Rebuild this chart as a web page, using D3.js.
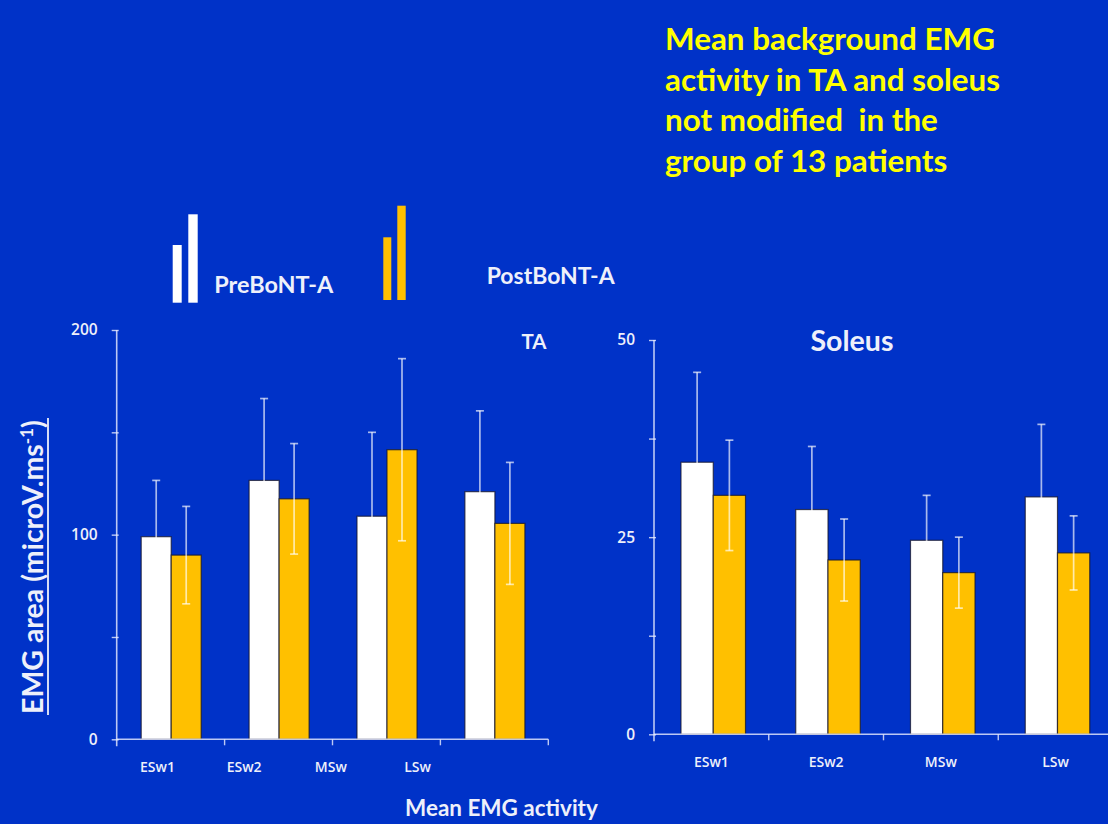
<!DOCTYPE html>
<html>
<head>
<meta charset="utf-8">
<script src="https://cdn.jsdelivr.net/npm/d3@7"></script>
<style>
  html, body { margin: 0; padding: 0; background: #0032C8; }
  svg { display: block; }
</style>
</head>
<body>
<svg id="chart" width="1108" height="824" font-family="Lato, 'Open Sans', sans-serif"></svg>
<script>
// ---- data ----
const categories = ["ESw1", "ESw2", "MSw", "LSw"];
const seriesNames = ["PreBoNT-A", "PostBoNT-A"];

// Tibialis anterior (TA), mean EMG area and SD
const taPre = [99, 126.5, 109, 121];
const taPost = [90, 117.5, 141.5, 105.5];
const taPreSD = [27.5, 40, 41, 39.5];
const taPostSD = [23.8, 27, 44.5, 29.8];

// Soleus, mean EMG area and SD
const solPre = [34.5, 28.5, 24.6, 30.1];
const solPost = [30.3, 22.1, 20.5, 23.0];
const solPreSD = [11.4, 8.0, 5.7, 9.2];
const solPostSD = [7.0, 5.2, 4.5, 4.7];

const taTicks = [0, 50, 100, 150, 200];
const taTickLabels = ["0", "", "100", "", "200"];
const solTicks = [0, 12.5, 25, 37.5, 50];
const solTickLabels = ["0", "", "25", "", "50"];

const titleLines = ["Mean background EMG", "activity in TA and soleus", "not modified  in the", "group of 13 patients"];

// ---- styles ----
const BG = "#0032C8";
const PRE_COLOR = "#FFFFFF";
const POST_COLOR = "#FFC000";
const AXIS_COLOR = "rgba(235,238,255,0.8)";
const ERR_COLOR = "rgba(255,255,255,0.66)";
const TEXT_COLOR = "#EEF0FA";
const SMALL_FONT = "'Open Sans', Lato, sans-serif";

const svg = d3.select("#chart");
svg.append("rect").attr("width", 1108).attr("height", 824).attr("fill", BG);

// scale a text element's font size so it spans the given width
function fitWidth(sel, width) {
  const w = sel.node().getComputedTextLength();
  const fs = parseFloat(sel.style("font-size"));
  if (w > 0) sel.style("font-size", (fs * width / w) + "px");
  return sel;
}

function panel(opts) {
  const { pre, post, preSD, postSD, domain, ticks, tickLabels,
          xRange, yRange, groupOffset, groupWidth, labelScale, title } = opts;
  const g = svg.append("g");

  const x = d3.scaleBand().domain(categories).range(xRange);
  const x1 = d3.scaleBand().domain(seriesNames).range([0, groupWidth]);
  const y = d3.scaleLinear().domain(domain).range(yRange);

  const rows = categories.map((c, i) => ({
    cat: c,
    vals: [
      { s: seriesNames[0], v: pre[i], sd: preSD[i], color: PRE_COLOR },
      { s: seriesNames[1], v: post[i], sd: postSD[i], color: POST_COLOR }
    ]
  }));

  // bars
  const groups = g.selectAll("g.grp").data(rows).join("g")
    .attr("class", "grp")
    .attr("transform", d => `translate(${x(d.cat) + groupOffset},0)`);

  groups.selectAll("rect").data(d => d.vals).join("rect")
    .attr("x", d => x1(d.s))
    .attr("width", x1.bandwidth())
    .attr("y", d => y(d.v))
    .attr("height", d => y(0) - y(d.v))
    .attr("fill", d => d.color)
    .attr("stroke", "rgba(20,20,40,0.75)")
    .attr("stroke-width", 1.2);

  // error bars (mean ± SD)
  const err = groups.selectAll("g.err").data(d => d.vals).join("g").attr("class", "err")
    .attr("transform", d => `translate(${x1(d.s) + x1.bandwidth() / 2},0)`);
  err.append("line")
    .attr("y1", d => y(d.v - d.sd)).attr("y2", d => y(d.v + d.sd))
    .attr("stroke", ERR_COLOR).attr("stroke-width", 1.7);
  err.append("line")
    .attr("x1", -4).attr("x2", 4)
    .attr("y1", d => y(d.v + d.sd)).attr("y2", d => y(d.v + d.sd))
    .attr("stroke", ERR_COLOR).attr("stroke-width", 1.7);
  err.append("line")
    .attr("x1", -4).attr("x2", 4)
    .attr("y1", d => y(d.v - d.sd)).attr("y2", d => y(d.v - d.sd))
    .attr("stroke", ERR_COLOR).attr("stroke-width", 1.7);

  // y axis
  const yAxis = d3.axisLeft(y).tickValues(ticks)
    .tickFormat((d, i) => tickLabels[i]).tickSizeInner(7).tickSizeOuter(0).tickPadding(12);
  const ya = g.append("g").attr("transform", `translate(${xRange[0]},0)`).call(yAxis);
  ya.select(".domain").attr("stroke", AXIS_COLOR).attr("stroke-width", 1.6)
    .attr("d", `M0,${yRange[0] + 7}V${yRange[1]}`);
  ya.selectAll(".tick line").attr("stroke", AXIS_COLOR).attr("stroke-width", 1.4)
    .attr("transform", "translate(2,0)");
  ya.selectAll(".tick text").attr("fill", TEXT_COLOR)
    .style("font-size", "15.5px").style("font-weight", 600)
    .style("font-family", SMALL_FONT);

  // x axis: boundary ticks between categories
  const bounds = categories.map(c => x(c)).concat([xRange[1]]);
  const xa = g.append("g");
  xa.append("line")
    .attr("x1", xRange[0]).attr("x2", xRange[1])
    .attr("y1", y(0)).attr("y2", y(0))
    .attr("stroke", AXIS_COLOR).attr("stroke-width", 1.6);
  xa.selectAll("line.bt").data(bounds.slice(1)).join("line").attr("class", "bt")
    .attr("x1", d => d).attr("x2", d => d)
    .attr("y1", y(0)).attr("y2", y(0) + 6)
    .attr("stroke", AXIS_COLOR).attr("stroke-width", 1.4);

  // category labels
  const lx = labelScale || (c => x(c) + x.bandwidth() / 2);
  xa.selectAll("text").data(categories).join("text")
    .attr("x", d => lx(d))
    .attr("y", y(0) + 33)
    .attr("text-anchor", "middle")
    .attr("fill", TEXT_COLOR)
    .style("font-size", "14px").style("font-weight", 600)
    .style("font-family", SMALL_FONT)
    .text(d => d);

  // panel title
  const t = g.append("text")
    .attr("x", title.x).attr("y", title.y)
    .attr("fill", TEXT_COLOR).style("font-size", "20px").style("font-weight", 700)
    .text(title.text);
  fitWidth(t, title.w);
}

// TA panel
panel({
  pre: taPre, post: taPost, preSD: taPreSD, postSD: taPostSD,
  domain: [0, 200], ticks: taTicks, tickLabels: taTickLabels,
  xRange: [116.7, 548.3], yRange: [739.3, 330],
  groupOffset: 24.5, groupWidth: 60,
  labelScale: d3.scalePoint().domain(categories).range([157.5, 417.5]),
  title: { text: "TA", x: 521.5, y: 349, w: 25 }
});

// Soleus panel
panel({
  pre: solPre, post: solPost, preSD: solPreSD, postSD: solPostSD,
  domain: [0, 50], ticks: solTicks, tickLabels: solTickLabels,
  xRange: [654, 1113], yRange: [734.3, 340],
  groupOffset: 27, groupWidth: 64.5,
  labelScale: null,
  title: { text: "Soleus", x: 810.5, y: 351, w: 83 }
});

// y-axis title (underlined, with superscript)
const yTitle = svg.append("text")
  .attr("transform", "translate(43,567) rotate(-90)")
  .attr("text-anchor", "middle")
  .attr("fill", TEXT_COLOR).style("font-size", "24px").style("font-weight", 700);
yTitle.append("tspan").text("EMG area (microV.ms");
yTitle.append("tspan").attr("baseline-shift", "super").attr("font-size", "60%").text("-1");
yTitle.append("tspan").text(")");
fitWidth(yTitle, 294);
svg.append("line")
  .attr("x1", 48).attr("x2", 48).attr("y1", 418).attr("y2", 715)
  .attr("stroke", TEXT_COLOR).attr("stroke-width", 1.8);

// x-axis title
const xTitle = svg.append("text")
  .attr("x", 405).attr("y", 816)
  .attr("fill", TEXT_COLOR).style("font-size", "22px").style("font-weight", 700)
  .text("Mean EMG activity");
fitWidth(xTitle, 193);

// legend
const legend = svg.append("g");
const legendItems = [
  { name: seriesNames[0], color: PRE_COLOR,
    glyphs: [[172.7, 245, 9, 57.7], [188.3, 214.3, 9.4, 88.4]], tx: 214.3, ty: 293, tw: 119 },
  { name: seriesNames[1], color: POST_COLOR,
    glyphs: [[383.3, 237.3, 8, 62.7], [397.3, 205.7, 8.4, 94.3]], tx: 486.7, ty: 284, tw: 128 }
];
legendItems.forEach(it => {
  legend.selectAll(null).data(it.glyphs).join("rect")
    .attr("x", d => d[0]).attr("y", d => d[1])
    .attr("width", d => d[2]).attr("height", d => d[3])
    .attr("fill", it.color);
  const t = legend.append("text")
    .attr("x", it.tx).attr("y", it.ty)
    .attr("fill", TEXT_COLOR).style("font-size", "18px").style("font-weight", 700)
    .text(it.name);
  fitWidth(t, it.tw);
});

// headline
const head = svg.append("g");
const l0 = head.append("text")
  .attr("x", 665).attr("y", 50)
  .attr("fill", "#FFFF00").style("font-size", "28px").style("font-weight", 700)
  .style("white-space", "pre")
  .text(titleLines[0]);
fitWidth(l0, 330);
const headSize = l0.style("font-size");
titleLines.slice(1).forEach((s, i) => {
  head.append("text")
    .attr("x", 665).attr("y", 50 + (i + 1) * 40.5)
    .attr("fill", "#FFFF00").style("font-size", headSize).style("font-weight", 700)
    .style("white-space", "pre")
    .text(s);
});
</script>
</body>
</html>
